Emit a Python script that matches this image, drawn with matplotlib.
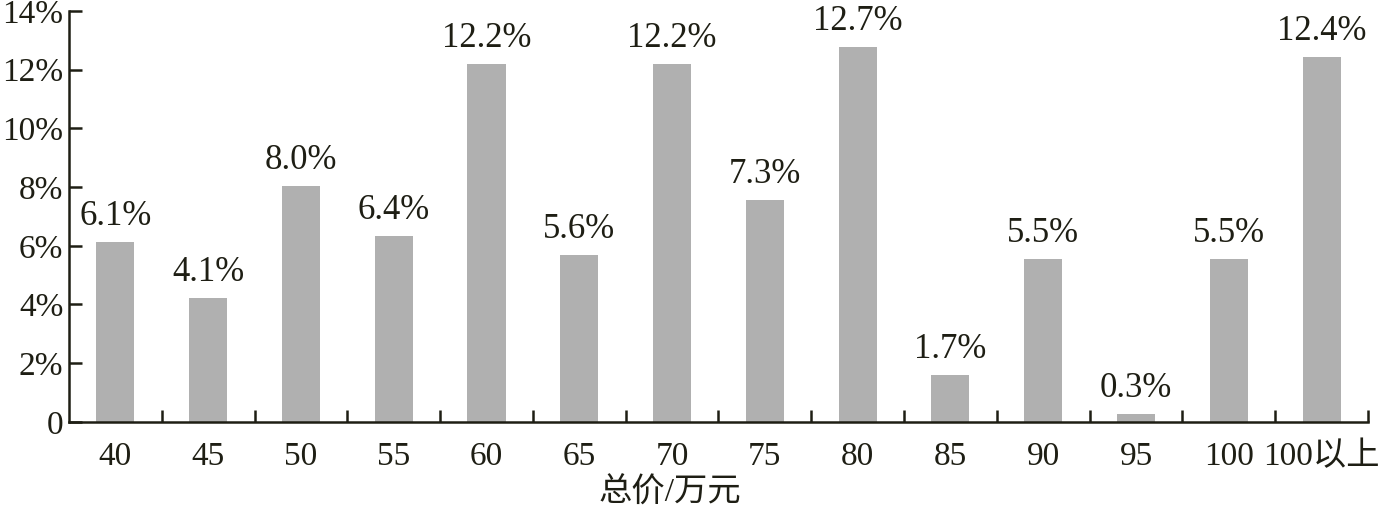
import matplotlib.pyplot as plt
import numpy as np

# data
categories = ["40", "45", "50", "55", "60", "65", "70", "75", "80", "85", "90", "95", "100", "100以上"]
heights = [6.13, 4.22, 8.04, 6.33, 12.19, 5.69, 12.19, 7.56, 12.77, 1.6, 5.55, 0.27, 5.55, 12.43]
labels = ["6.1%", "4.1%", "8.0%", "6.4%", "12.2%", "5.6%", "12.2%", "7.3%", "12.7%", "1.7%", "5.5%", "0.3%", "5.5%", "12.4%"]
yticks = [0, 2, 4, 6, 8, 10, 12, 14]
ytick_labels = ["0", "2%", "4%", "6%", "8%", "10%", "12%", "14%"]

plt.rcParams['font.family'] = ['Liberation Serif', 'Noto Sans CJK SC']
plt.rcParams['font.size'] = 24
ink = '#1e1e14'

fig = plt.figure(figsize=(13.87, 5.12), dpi=100)
ax = fig.add_axes([0.0497, 0.176, 0.9366, 0.8025])

x = np.arange(len(categories))
ax.bar(x, heights, width=0.41, color='#b0b0b0')
for xi, h, lab in zip(x, heights, labels):
    ax.text(xi, h + 0.3, lab, ha='center', va='bottom', color=ink, fontsize=25)

ax.set_xlim(-0.5, len(categories) - 0.5)
ax.set_ylim(0, 14)
ax.set_yticks(yticks)
ax.set_yticklabels(ytick_labels, color=ink)
ax.set_xticks(x)
ax.set_xticklabels(categories, color=ink, fontsize=24)
ax.set_xticks(np.arange(0.5, len(categories) - 0.4, 1), minor=True)
ax.tick_params(axis='x', which='major', length=0, pad=14)
ax.tick_params(axis='x', which='minor', direction='in', length=9, width=1.8, color=ink)
ax.tick_params(axis='y', direction='in', length=9, width=1.8, color=ink, pad=4)
for s in ['top', 'right']:
    ax.spines[s].set_visible(False)
for s in ['left', 'bottom']:
    ax.spines[s].set_color(ink)
    ax.spines[s].set_linewidth(1.8)
ax.set_xlabel("总价/万元", color=ink, fontsize=24)
ax.xaxis.set_label_coords(0.463, -0.135)

fig.savefig("out.png", dpi=100)
